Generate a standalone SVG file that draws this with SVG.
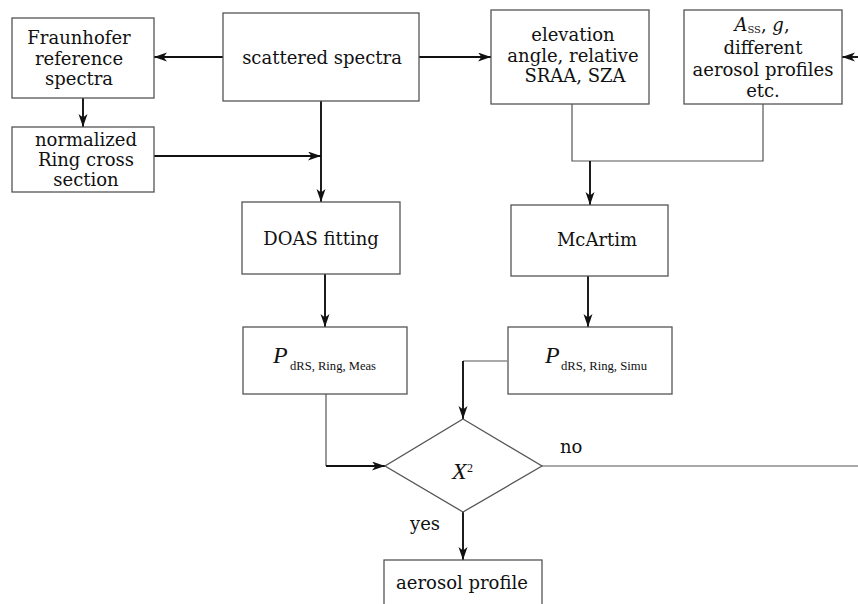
<svg xmlns="http://www.w3.org/2000/svg" width="858" height="604" viewBox="0 0 858 604">
<style>
.box{fill:#fff;stroke:#555;stroke-width:1.3}
.t{font-family:"DejaVu Serif","Liberation Serif",serif;font-size:18px;fill:#111;text-anchor:middle}
.tl{font-family:"DejaVu Serif","Liberation Serif",serif;font-size:18px;fill:#111}
.it{font-family:"Liberation Serif","DejaVu Serif",serif;font-style:italic;font-size:24px;fill:#111}
.sub{font-family:"Liberation Serif","DejaVu Serif",serif;font-size:12px;fill:#111}
.a{fill:none;stroke:#111;stroke-width:1.9;marker-end:url(#ah)}
.l{fill:none;stroke:#555;stroke-width:1.2}
</style>
<defs>
<marker id="ah" markerUnits="userSpaceOnUse" markerWidth="14" markerHeight="10" refX="13" refY="4.5" orient="auto">
<path d="M0,0 L13,4.5 L0,9 L3.5,4.5 z" fill="#111"/>
</marker>
</defs>
<rect width="858" height="604" fill="#fff"/>
<g id="connectors">
<path class="a" d="M223,57 H154"/>
<path class="a" d="M419,57 H491"/>
<path class="a" d="M858,57 H842"/>
<path class="a" d="M83,98 V127"/>
<path class="a" d="M154,156 H321"/>
<path class="a" d="M321,101 V202"/>
<path class="l" d="M572,104 V161 H763 V104"/>
<path class="a" d="M590,161 V205"/>
<path class="a" d="M325,274 V327"/>
<path class="a" d="M588,276 V327"/>
<path class="l" d="M507,361 H463"/>
<path class="a" d="M463,361 V419"/>
<path class="l" d="M326,394 V466"/>
<path class="a" d="M326,466 H385"/>
<path class="l" d="M542,466 H858"/>
<path class="a" d="M463,512 V560"/>
</g>
<g id="fraunhofer">
<rect class="box" x="12" y="18" width="142" height="80"/>
<text class="t" x="79" y="44">Fraunhofer</text>
<text class="t" x="79" y="64.5">reference</text>
<text class="t" x="79" y="85">spectra</text>
</g>
<g id="scattered">
<rect class="box" x="223" y="13" width="196" height="88"/>
<text class="t" x="322" y="64">scattered spectra</text>
</g>
<g id="elevation">
<rect class="box" x="491" y="10" width="158" height="94"/>
<text class="t" x="573" y="41">elevation</text>
<text class="t" x="573" y="62">angle, relative</text>
<text class="t" x="575" y="82">SRAA, SZA</text>
</g>
<g id="params">
<rect class="box" x="684" y="10" width="158" height="94"/>
<text class="t" x="762" y="31"><tspan font-style="italic">A</tspan><tspan font-size="10" dy="2">SS</tspan><tspan dy="-2">, </tspan><tspan font-style="italic">g</tspan>,</text>
<text class="t" x="763" y="54">different</text>
<text class="t" x="763" y="76">aerosol profiles</text>
<text class="t" x="763" y="97">etc.</text>
</g>
<g id="normalized">
<rect class="box" x="12" y="127" width="142" height="65"/>
<text class="t" x="86" y="146">normalized</text>
<text class="t" x="86" y="166">Ring cross</text>
<text class="t" x="86" y="186">section</text>
</g>
<g id="doas">
<rect class="box" x="242" y="202" width="158" height="72"/>
<text class="t" x="321" y="245">DOAS fitting</text>
</g>
<g id="mcartim">
<rect class="box" x="511" y="205" width="157" height="71"/>
<text class="t" x="597" y="246">McArtim</text>
</g>
<g id="pmeas">
<rect class="box" x="243" y="327" width="164" height="67"/>
<text class="it" x="273" y="363">P</text>
<text class="sub" x="290" y="370" textLength="86" lengthAdjust="spacingAndGlyphs">dRS, Ring, Meas</text>
</g>
<g id="psimu">
<rect class="box" x="508" y="327" width="164" height="67"/>
<text class="it" x="545" y="363">P</text>
<text class="sub" x="561" y="370" textLength="86" lengthAdjust="spacingAndGlyphs">dRS, Ring, Simu</text>
</g>
<g id="chi2">
<path class="box" d="M463,419 L542,466 L463,512 L385,466 Z"/>
<text class="it" x="452" y="479">X</text>
<text class="sub" x="467" y="472" font-size="9">2</text>
</g>
<g id="labels">
<text class="tl" x="560" y="453">no</text>
<text class="tl" x="410" y="530">yes</text>
</g>
<g id="aerosol">
<rect class="box" x="384" y="560" width="158" height="60"/>
<text class="t" x="462" y="589">aerosol profile</text>
</g>
</svg>
